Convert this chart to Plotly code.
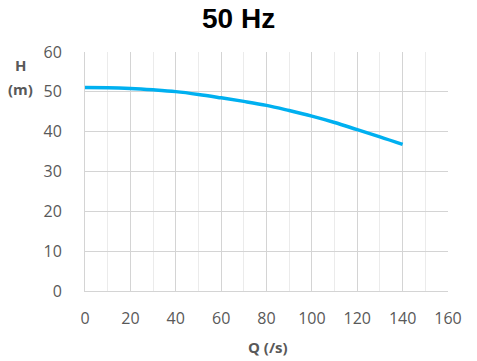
import plotly.graph_objects as go

Q = [0, 10, 20, 30, 40, 50, 60, 70, 80, 90, 100, 110, 120, 130, 140]
H = [51.1, 51.05, 50.85, 50.5, 50.05, 49.35, 48.5, 47.6, 46.6, 45.3, 43.9, 42.3, 40.5, 38.7, 36.8]
x_ticks = [0, 20, 40, 60, 80, 100, 120, 140, 160]
y_ticks = [0, 10, 20, 30, 40, 50, 60]

fig = go.Figure()
fig.add_trace(go.Scatter(x=Q, y=H, mode="lines", line=dict(color="#00B0F0", width=3.5, shape="spline", smoothing=1.0),
                         hoverinfo="skip"))

label_family = "Open Sans, Liberation Sans, sans-serif"
tick_font = dict(family=label_family, size=16, color="#595959")
lab_font = dict(family=label_family, size=15, color="#595959")
fig.update_layout(
    width=477, height=361,
    margin=dict(l=85, r=29, t=52, b=70),
    paper_bgcolor="white", plot_bgcolor="white",
    showlegend=False,
    xaxis=dict(range=[0, 160], tickvals=x_ticks, tickfont=tick_font, automargin=False,
               showgrid=True, gridcolor="#D4D4D4", gridwidth=1,
               minor=dict(dtick=10, showgrid=True, gridcolor="#EBEBEB", gridwidth=1),
               showline=True, linecolor="#D4D4D4", linewidth=1,
               ticks="", ticklabelstandoff=13, zeroline=False),
    yaxis=dict(range=[0, 60], tickvals=y_ticks, tickfont=tick_font, automargin=False,
               showgrid=True, gridcolor="#D4D4D4", gridwidth=1,
               showline=True, linecolor="#D4D4D4", linewidth=1,
               ticks="", ticklabelstandoff=19, zeroline=False),
    annotations=[
        dict(text="<b>50 Hz</b>", xref="paper", yref="paper", x=(238 - 85) / 363, y=1 + (52 - 19) / 239,
             xanchor="center", yanchor="middle", showarrow=False,
             font=dict(family="Liberation Sans, Arial, sans-serif", size=28, color="black")),
        dict(text="<b>H</b>", xref="paper", yref="paper", x=(20 - 85) / 363, y=(291 - 65) / 239,
             xanchor="center", yanchor="middle", showarrow=False, font=lab_font),
        dict(text="<b>(m)</b>", xref="paper", yref="paper", x=(20 - 85) / 363, y=(291 - 89) / 239,
             xanchor="center", yanchor="middle", showarrow=False, font=lab_font),
        dict(text="<b>Q (/s)</b>", xref="paper", yref="paper", x=(268 - 85) / 363, y=-(347 - 291) / 239,
             xanchor="center", yanchor="middle", showarrow=False, font=lab_font),
    ],
)
fig.write_html("out.html", config={"displayModeBar": False, "staticPlot": True},
               post_script="document.body.style.margin='0px';")
